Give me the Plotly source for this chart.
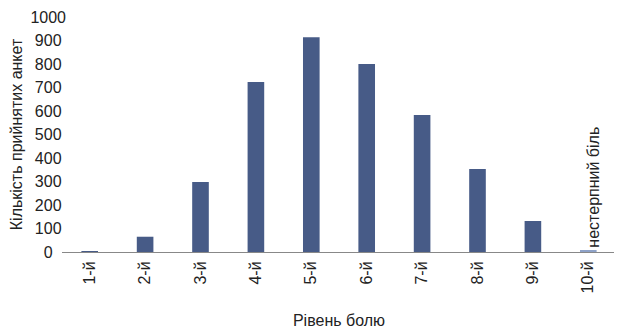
import plotly.graph_objects as go

categories = ["1-й", "2-й", "3-й", "4-й", "5-й", "6-й", "7-й", "8-й", "9-й", "10-й"]
values = [2, 65, 298, 723, 914, 800, 583, 353, 132, 5]
yticks = [0, 100, 200, 300, 400, 500, 600, 700, 800, 900, 1000]
bar_colors = ["#475b87"] * 9 + ["#8ea2c8"]
note_text = "нестерпний біль"

FONT = "Liberation Sans Narrow, Arial Narrow, sans-serif"

# centre the y tick labels (as in the reference) by padding shorter labels
PAD = "\u2008"
ytext = [str(v) + PAD * (len(str(max(yticks))) - len(str(v))) for v in yticks]

fig = go.Figure()
fig.add_trace(go.Bar(x=categories, y=values, marker_color=bar_colors,
                     marker_line_width=0, width=0.3))

fig.add_annotation(x=categories[-1], y=values[-1], text=note_text, textangle=-90,
                   showarrow=False, yanchor="bottom", xanchor="center",
                   yshift=1, xshift=5,
                   font=dict(family=FONT, size=16, color="#222"))

fig.update_layout(
    width=622, height=328,
    margin=dict(l=54, r=14, t=9, b=84),
    paper_bgcolor="white", plot_bgcolor="white",
    showlegend=False,
    font=dict(family=FONT, size=16, color="#222"),
    xaxis=dict(showline=True, linecolor="#888", linewidth=1, tickangle=-90,
               ticks="", showgrid=False, automargin=False, ticklabelstandoff=2,
               title=dict(text="Рівень болю", standoff=22, font=dict(size=16))),
    yaxis=dict(range=[0, 1000], tickvals=yticks, ticktext=ytext, showgrid=False,
               zeroline=False, showline=False, ticks="", ticklabelstandoff=-5,
               automargin=False,
               title=dict(text="Кількість прийнятих анкет", standoff=7,
                          font=dict(size=16))),
)

fig.write_html("out.html")
